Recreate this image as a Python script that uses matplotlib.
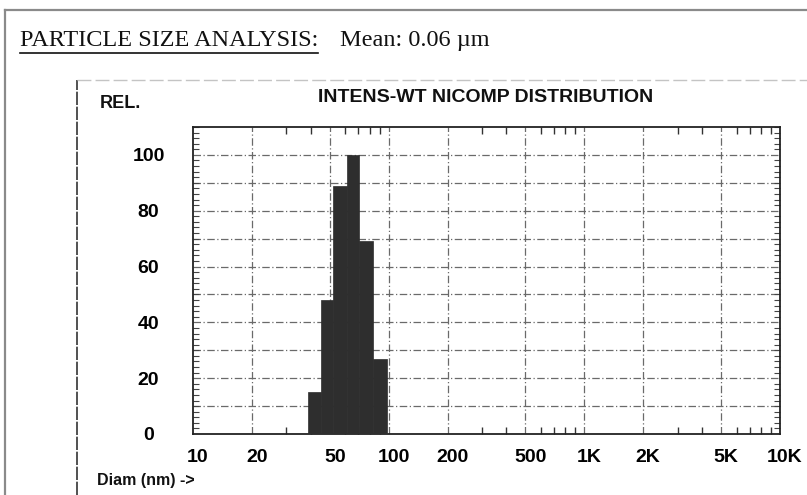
import matplotlib
matplotlib.use("Agg")
import matplotlib.pyplot as plt
import matplotlib.transforms as mtransforms
from matplotlib.lines import Line2D
from matplotlib.ticker import LogLocator, MultipleLocator, NullFormatter

# --- Nicomp intensity-weighted distribution ---
bin_edges = [38.8, 44.9, 52.1, 61.0, 70.7, 82.8, 97.7]   # diameter bins (nm)
rel_intensity = [15, 48, 89, 100, 69, 27]                 # relative intensity per bin

x_ticks = [10, 20, 50, 100, 200, 500, 1000, 2000, 5000, 10000]
x_tick_labels = ["10", "20", "50", "100", "200", "500", "1K", "2K", "5K", "10K"]
y_ticks = [0, 20, 40, 60, 80, 100]
mean_um = 0.06

W, H = 807, 495
fig = plt.figure(figsize=(W / 100, H / 100), dpi=100)
fig.patch.set_facecolor("white")

# page frame and printout box
fig.add_artist(Line2D([5 / W, 5 / W], [0, 1 - 10 / H], color="#8a8a8a", lw=1.6))
fig.add_artist(Line2D([5 / W, 1], [1 - 10 / H, 1 - 10 / H], color="#8a8a8a", lw=1.6))
fig.add_artist(Line2D([77 / W, 77 / W], [0, 1 - 80 / H], color="#333333", lw=1.2,
                      linestyle=(0, (8, 1))))
fig.add_artist(Line2D([77 / W, 1], [1 - 80 / H, 1 - 80 / H], color="#c4c4c4", lw=1.0,
                      linestyle=(0, (10, 3))))

# header
hdr = fig.text(20 / W, 1 - 46 / H, "PARTICLE SIZE ANALYSIS:", family="Liberation Serif",
               fontsize=17.5, ha="left", va="baseline", color="#111111")
fig.text(340 / W, 1 - 46 / H, f"Mean: {mean_um:.2f} \u00b5m", family="Liberation Serif",
         fontsize=17.5, ha="left", va="baseline", color="#111111")

ax = fig.add_axes([193 / W, 61 / H, 587 / W, 307 / H])

lefts = bin_edges[:-1]
widths = [b - a for a, b in zip(bin_edges[:-1], bin_edges[1:])]
ax.bar(lefts, rel_intensity, width=widths, align="edge", color="#2e2e2e",
       edgecolor="#2e2e2e", linewidth=0.5, zorder=3)

ax.set_xscale("log")
ax.set_xlim(10, 10000)
ax.set_ylim(0, 110)

# grid
for xv in x_ticks[1:-1]:
    ax.axvline(xv, color="#6a6a6a", lw=0.9, linestyle=(0, (6, 2, 1, 2)), zorder=1)
for yv in range(10, 110, 10):
    ax.axhline(yv, color="#6a6a6a", lw=0.9, linestyle=(0, (6, 2, 1, 2)), zorder=1)

ax.set_xticks(x_ticks)
ax.set_xticklabels(x_tick_labels)
ax.xaxis.set_minor_locator(LogLocator(base=10, subs=(3, 4, 6, 7, 8, 9)))
ax.xaxis.set_minor_formatter(NullFormatter())
ax.set_yticks(y_ticks)
ax.yaxis.set_minor_locator(MultipleLocator(2))

ax.tick_params(axis="x", which="major", length=0, pad=11, labelsize=14)
ax.tick_params(axis="x", which="minor", direction="in", length=5, width=1,
               top=True, bottom=True, color="#333333")
ax.tick_params(axis="y", which="major", length=0, pad=32, labelsize=14)
ax.tick_params(axis="y", which="minor", direction="in", length=4, width=0.8,
               left=True, right=True, color="#444444")

for lbl in ax.get_xticklabels():
    lbl.set_fontweight("bold")
    lbl.set_family("Liberation Sans")
    lbl.set_transform(lbl.get_transform() +
                      mtransforms.ScaledTranslation(5 / 100, 0, fig.dpi_scale_trans))
for lbl in ax.get_yticklabels():
    lbl.set_fontweight("bold")
    lbl.set_family("Liberation Sans")
    lbl.set_horizontalalignment("center")

for sp in ax.spines.values():
    sp.set_color("#222222")
    sp.set_linewidth(1.3)

# chart texts
fig.text(486 / W, 1 - 97 / H, "INTENS-WT NICOMP DISTRIBUTION", family="Liberation Sans",
         fontweight="bold", fontsize=14, ha="center", va="center", color="#111111")
fig.text(100 / W, 1 - 103 / H, "REL.", family="Liberation Sans", fontweight="bold",
         fontsize=13, ha="left", va="center", color="#111111")
fig.text(97 / W, 1 - 481 / H, "Diam (nm) ->", family="Liberation Sans", fontweight="bold",
         fontsize=11.5, ha="left", va="center", color="#111111")

# underline the section heading
fig.canvas.draw()
bb = hdr.get_window_extent().transformed(fig.transFigure.inverted())
fig.add_artist(Line2D([bb.x0, bb.x1], [bb.y0 - 2 / H, bb.y0 - 2 / H], color="#111111", lw=1.2))

fig.savefig("out.png", dpi=100, facecolor="white")
